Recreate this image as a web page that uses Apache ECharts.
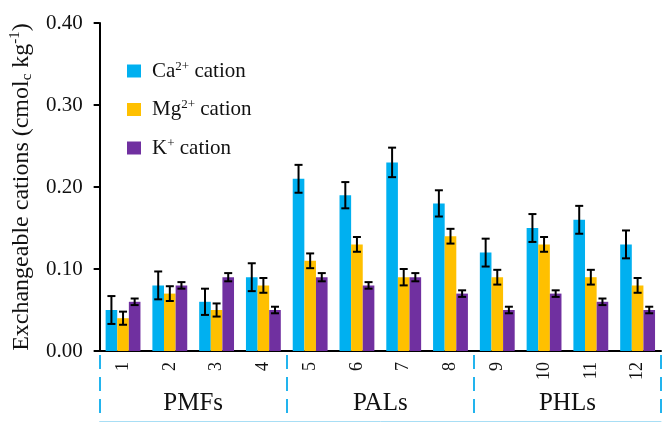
<!DOCTYPE html>
<html>
<head>
<meta charset="utf-8">
<script src="https://cdn.jsdelivr.net/npm/echarts@6/dist/echarts.min.js"></script>
<style>html,body{margin:0;padding:0;background:#fff}#c{width:664px;height:423px}</style>
</head>
<body>
<div id="c"></div>
<script>
const categories = ['1','2','3','4','5','6','7','8','9','10','11','12'];
const groups = ['PMFs','PALs','PHLs'];
const seriesNames = ['Ca', 'Mg', 'K'];
const ca = [0.05,0.08,0.06,0.09,0.21,0.19,0.23,0.18,0.12,0.15,0.16,0.13];
const mg = [0.04,0.07,0.05,0.08,0.11,0.13,0.09,0.14,0.09,0.13,0.09,0.08];
const k  = [0.06,0.08,0.09,0.05,0.09,0.08,0.09,0.07,0.05,0.07,0.06,0.05];
const caErr = [0.017,0.017,0.016,0.017,0.017,0.016,0.018,0.016,0.017,0.017,0.017,0.017];
const mgErr = [0.008,0.009,0.008,0.009,0.009,0.009,0.010,0.009,0.009,0.009,0.009,0.009];
const kErr  = [0.004,0.004,0.005,0.004,0.005,0.004,0.005,0.004,0.004,0.004,0.004,0.004];
const colors = ['#00B0F0', '#FFC000', '#7030A0'];

const FONT = "'Liberation Serif', 'Times New Roman', serif";
const CAT_GAP = 0.255;
const values = [ca, mg, k];
const errs = [caErr, mgErr, kErr];

const legendText = {
  'Ca': '{s|}{a|Ca}{sup|2+}{a| cation}',
  'Mg': '{s|}{a|Mg}{sup|2+}{a| cation}',
  'K': '{s|}{a|K}{sup|+}{a| cation}'
};

function errSeries(s) {
  const data = values[s].map((v, i) => [i, v - errs[s][i], v + errs[s][i]]);
  return {
    type: 'custom',
    xAxisIndex: 0, yAxisIndex: 0,
    z: 10,
    silent: true,
    data: data,
    renderItem: function (params, api) {
      const idx = api.value(0);
      const lo = api.coord([idx, api.value(1)]);
      const hi = api.coord([idx, api.value(2)]);
      const band = api.size([1, 0])[0];
      const bw = band * (1 - CAT_GAP) / 3;
      const x = lo[0] + (s - 1) * bw;
      const cw = 4;
      const st = { stroke: '#000', lineWidth: 2 };
      return {
        type: 'group',
        children: [
          { type: 'line', shape: { x1: x, y1: lo[1], x2: x, y2: hi[1] }, style: st },
          { type: 'line', shape: { x1: x - cw, y1: lo[1], x2: x + cw, y2: lo[1] }, style: st },
          { type: 'line', shape: { x1: x - cw, y1: hi[1], x2: x + cw, y2: hi[1] }, style: st }
        ]
      };
    }
  };
}

const chart = echarts.init(document.getElementById('c'));
chart.setOption({
  animation: false,
  backgroundColor: '#fff',
  grid: { left: 99, top: 23, width: 562, bottom: 72, containLabel: false },
  legend: {
    orient: 'vertical',
    left: 122, top: 55,
    itemWidth: 14, itemHeight: 13,
    itemGap: 17,
    data: seriesNames,
    icon: 'rect',
    formatter: n => legendText[n],
    textStyle: {
      color: '#111',
      rich: {
        s: { width: 6 },
        a: { fontSize: 21, fontFamily: FONT, color: '#111', lineHeight: 22 },
        sup: { fontSize: 13, fontFamily: FONT, color: '#111', lineHeight: 12, verticalAlign: 'top' }
      }
    }
  },
  xAxis: [
    {
      type: 'category', data: categories, position: 'bottom',
      axisLine: { show: true, lineStyle: { color: '#000', width: 2 } },
      axisTick: { show: false },
      axisLabel: { rotate: 90, fontSize: 18, fontFamily: FONT, color: '#111', margin: 11 }
    },
    {
      type: 'category', data: groups, position: 'bottom', offset: 4,
      axisLine: { show: false },
      axisTick: { show: true, length: 66, lineStyle: { color: '#22B4EE', width: 2, type: [14, 8] } },
      axisLabel: { fontSize: 25, fontFamily: FONT, color: '#111', margin: 36 }
    },
    {
      type: 'category', data: groups, position: 'bottom', offset: 70,
      axisLine: { show: true, lineStyle: { color: '#a8def5', width: 1 } },
      axisTick: { show: false },
      axisLabel: { show: false }
    }
  ],
  yAxis: {
    type: 'value', min: 0, max: 0.4, interval: 0.1,
    axisLine: { show: true, lineStyle: { color: '#000', width: 2 } },
    axisTick: { show: true, length: 6, lineStyle: { color: '#000', width: 2 } },
    splitLine: { show: false },
    axisLabel: { formatter: v => v.toFixed(2), fontSize: 21, fontFamily: FONT, color: '#111', margin: 17 },
    name: '{a|Exchangeable cations (cmol}{sub|c}{a| kg}{sup|-1}{a|)}',
    nameLocation: 'middle',
    nameGap: 64,
    nameTextStyle: {
      rich: {
        a: { fontSize: 24, fontFamily: FONT, color: '#111', lineHeight: 27 },
        sub: { fontSize: 15, fontFamily: FONT, color: '#111', lineHeight: 15, verticalAlign: 'bottom' },
        sup: { fontSize: 15, fontFamily: FONT, color: '#111', lineHeight: 15, verticalAlign: 'top' }
      }
    }
  },
  series: [
    { name: 'Ca', type: 'bar', data: ca, itemStyle: { color: colors[0] }, barGap: '0%', barCategoryGap: (CAT_GAP * 100) + '%' },
    { name: 'Mg', type: 'bar', data: mg, itemStyle: { color: colors[1] }, barGap: '0%', barCategoryGap: (CAT_GAP * 100) + '%' },
    { name: 'K', type: 'bar', data: k, itemStyle: { color: colors[2] }, barGap: '0%', barCategoryGap: (CAT_GAP * 100) + '%' },
    errSeries(0), errSeries(1), errSeries(2)
  ]
});
</script>
</body>
</html>
